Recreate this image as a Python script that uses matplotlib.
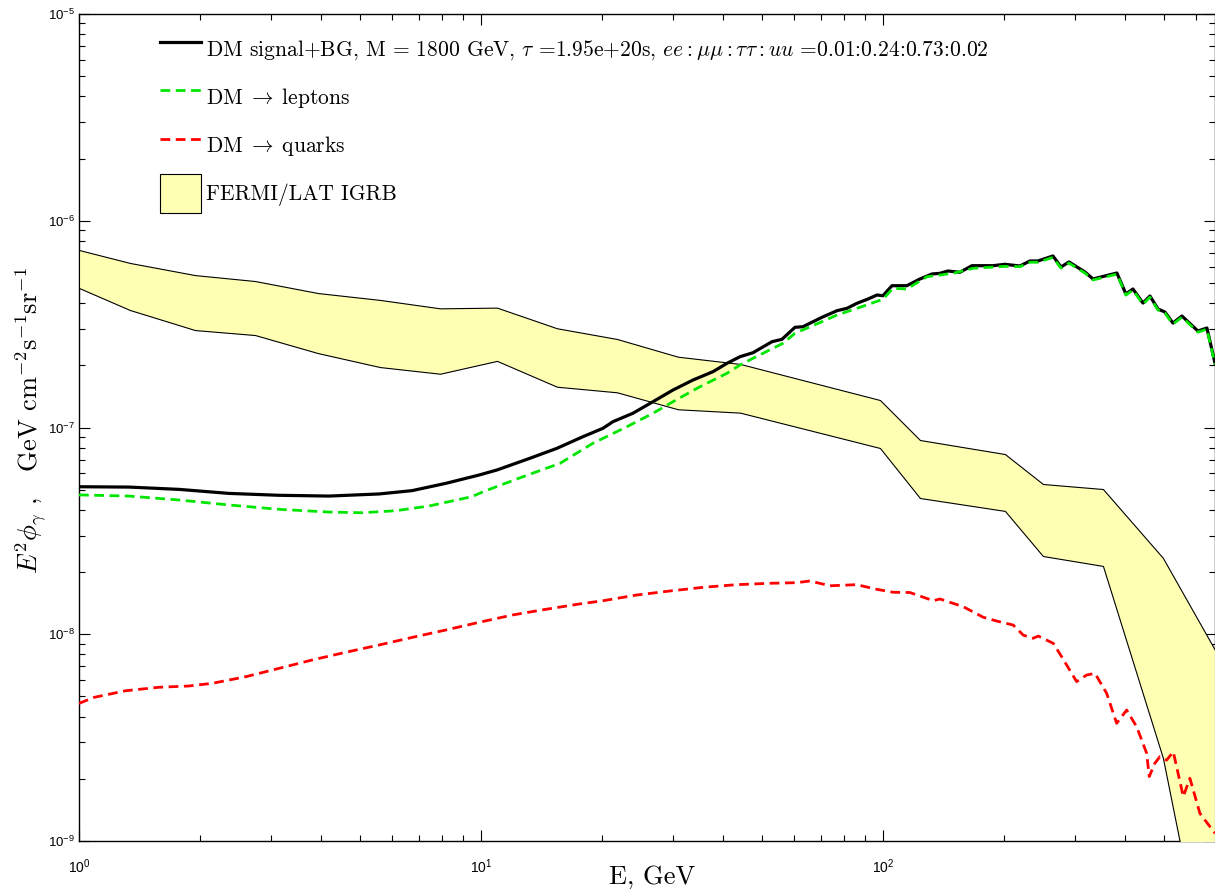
import matplotlib
matplotlib.use('Agg')
import matplotlib.pyplot as plt
from matplotlib.ticker import LogLocator, NullFormatter

# ---------------- data ----------------
E_signal = [1.0, 1.331, 1.774, 2.361, 3.145, 4.187, 5.576, 6.735, 8.18, 9.89, 10.96, 13.24, 15.45,
            17.94, 20.11, 21.30, 23.88, 26.79, 30.04, 33.69, 37.77, 40.93, 44.10, 47.50, 52.96,
            56.08, 60.41, 63.24, 70.52, 76.85, 81.37, 86.15, 91.78, 96.62, 100.0, 105.3, 114.7,
            123.6, 132.4, 138.6, 145.1, 155.4, 166.5, 187.8, 201.1, 219.2, 232.1, 243.0, 264.8,
            277.3, 290.3, 318.2, 333.1, 382.0, 402.2, 418.7, 443.5, 461.6, 483.3, 502.9, 526.5,
            554.4, 607.6, 639.7, 669.9]
signal = [5.17e-8, 5.15e-8, 5.02e-8, 4.80e-8, 4.70e-8, 4.66e-8, 4.77e-8, 4.95e-8, 5.37e-8, 5.89e-8,
          6.23e-8, 7.10e-8, 7.93e-8, 9.03e-8, 9.91e-8, 1.067e-7, 1.172e-7, 1.333e-7, 1.518e-7,
          1.697e-7, 1.862e-7, 2.044e-7, 2.200e-7, 2.300e-7, 2.600e-7, 2.670e-7, 3.052e-7, 3.073e-7,
          3.412e-7, 3.672e-7, 3.771e-7, 3.987e-7, 4.182e-7, 4.373e-7, 4.339e-7, 4.851e-7, 4.851e-7,
          5.228e-7, 5.526e-7, 5.569e-7, 5.714e-7, 5.633e-7, 6.063e-7, 6.063e-7, 6.157e-7, 6.042e-7,
          6.389e-7, 6.389e-7, 6.755e-7, 5.976e-7, 6.319e-7, 5.650e-7, 5.228e-7, 5.588e-7, 4.422e-7,
          4.676e-7, 4.000e-7, 4.325e-7, 3.743e-7, 3.620e-7, 3.201e-7, 3.461e-7, 2.928e-7, 3.028e-7,
          2.051e-7]

E_leptons = [1.0, 1.331, 1.774, 2.361, 3.145, 4.187, 5.058, 6.145, 7.42, 9.50, 10.12, 12.72, 15.73,
             18.99, 23.08, 26.79, 30.04, 35.06, 40.93, 44.10, 47.50, 56.39, 60.41, 70.52, 76.85,
             86.15, 100.0, 105.9, 114.7, 128.7, 149.3, 167.5, 201.1, 219.2, 232.1, 243.0, 264.8,
             277.3, 290.3, 318.2, 333.1, 382.0, 402.2, 418.7, 443.5, 461.6, 483.3, 502.9, 526.5,
             554.4, 607.6, 639.7, 669.9]
leptons = [4.72e-8, 4.66e-8, 4.46e-8, 4.22e-8, 4.02e-8, 3.90e-8, 3.87e-8, 3.96e-8, 4.17e-8, 4.63e-8,
           4.89e-8, 5.78e-8, 6.71e-8, 8.39e-8, 1.009e-7, 1.172e-7, 1.333e-7, 1.575e-7, 1.829e-7,
           2.006e-7, 2.161e-7, 2.554e-7, 2.855e-7, 3.249e-7, 3.499e-7, 3.771e-7, 4.169e-7, 4.713e-7,
           4.676e-7, 5.362e-7, 5.569e-7, 5.888e-7, 6.02e-7, 5.997e-7, 6.30e-7, 6.30e-7, 6.65e-7,
           5.90e-7, 6.24e-7, 5.58e-7, 5.17e-7, 5.52e-7, 4.37e-7, 4.62e-7, 3.95e-7, 4.27e-7, 3.70e-7,
           3.58e-7, 3.16e-7, 3.42e-7, 2.89e-7, 2.99e-7, 2.02e-7]

E_quarks = [1.0, 1.09, 1.306, 1.58, 1.877, 2.146, 2.598, 3.145, 3.805, 4.607, 5.576, 6.75, 8.17,
            9.89, 11.97, 14.49, 17.53, 20.15, 24.39, 29.52, 35.73, 43.25, 52.35, 61.0, 65.83,
            73.84, 86.04, 96.45, 106.1, 116.7, 133.4, 138.6, 158.4, 177.7, 191.8, 210.9, 223.4,
            236.5, 243.4, 265.3, 278.3, 303.3, 321.1, 336.9, 360.2, 381.4, 392.5, 403.9, 427.7,
            452.9, 459.7, 474.9, 488.8, 507.7, 527.6, 558.6, 580.3, 614.5, 669.9]
quarks = [4.63e-9, 4.95e-9, 5.33e-9, 5.54e-9, 5.62e-9, 5.79e-9, 6.23e-9, 6.84e-9, 7.51e-9, 8.18e-9,
          8.87e-9, 9.66e-9, 1.048e-8, 1.142e-8, 1.239e-8, 1.320e-8, 1.400e-8, 1.453e-8, 1.548e-8,
          1.619e-8, 1.687e-8, 1.737e-8, 1.764e-8, 1.776e-8, 1.810e-8, 1.716e-8, 1.737e-8, 1.650e-8,
          1.596e-8, 1.592e-8, 1.453e-8, 1.481e-8, 1.359e-8, 1.208e-8, 1.159e-8, 1.108e-8, 9.9e-9,
          9.56e-9, 9.80e-9, 9.04e-9, 7.79e-9, 5.90e-9, 6.35e-9, 6.47e-9, 5.18e-9, 3.71e-9, 3.99e-9,
          4.30e-9, 3.57e-9, 2.66e-9, 2.05e-9, 2.38e-9, 2.56e-9, 2.46e-9, 2.70e-9, 1.64e-9, 2.01e-9,
          1.36e-9, 1.09e-9]

E_band = [1.0, 1.339, 1.943, 2.741, 3.93, 5.61, 7.91, 10.96, 15.45, 21.79, 30.9, 44.1, 98.3,
          123.6, 201.1, 250.0, 352.6, 497.2, 670.0]
band_upper = [7.22e-7, 6.25e-7, 5.46e-7, 5.11e-7, 4.47e-7, 4.14e-7, 3.77e-7, 3.80e-7, 3.02e-7,
              2.68e-7, 2.20e-7, 2.03e-7, 1.358e-7, 8.70e-8, 7.44e-8, 5.33e-8, 5.04e-8, 2.34e-8,
              8.39e-9]
band_lower = [4.73e-7, 3.70e-7, 2.96e-7, 2.80e-7, 2.29e-7, 1.96e-7, 1.82e-7, 2.10e-7, 1.575e-7,
              1.48e-7, 1.225e-7, 1.18e-7, 7.96e-8, 4.56e-8, 3.95e-8, 2.39e-8, 2.14e-8, 2.52e-9,
              1.4e-10]

label_signal = (r'DM signal+BG, M = 1800 GeV, $\tau$ =1.95e+20s, '
                r'$ee:\mu\mu:\tau\tau:uu$ =0.01:0.24:0.73:0.02')
label_leptons = r'DM$\;\rightarrow\;$leptons'
label_quarks = r'DM$\;\rightarrow\;$quarks'
label_band = 'FERMI/LAT IGRB'

# ---------------- figure ----------------
plt.rcParams['mathtext.fontset'] = 'cm'
plt.rcParams['font.family'] = 'Liberation Sans'
plt.rcParams['axes.formatter.use_mathtext'] = True

W, H = 1215, 891
fig = plt.figure(figsize=(W / 100, H / 100), dpi=100)
ax = fig.add_axes([79 / W, (H - 841) / H, (1215 - 79) / W, (841 - 14) / H])

ax.set_xscale('log')
ax.set_yscale('log')

band = ax.fill_between(E_band, band_lower, band_upper, facecolor='#ffffb4',
                       edgecolor='black', linewidth=0.8, zorder=2.6, label=label_band)
l1, = ax.plot(E_signal, signal, color='black', lw=2.3, zorder=4, label=label_signal)
l2, = ax.plot(E_leptons, leptons, color='#00e600', lw=2.0, dashes=(3.5, 2.0), zorder=5,
              label=label_leptons)
l3, = ax.plot(E_quarks, quarks, color='#ff0000', lw=2.0, dashes=(3.5, 2.0), zorder=5,
              label=label_quarks)

ax.set_xlim(1, 670)
ax.set_ylim(1e-9, 1e-5)

ax.xaxis.set_major_locator(LogLocator(base=10, numticks=10))
ax.xaxis.set_minor_locator(LogLocator(base=10, subs=range(2, 10), numticks=20))
ax.yaxis.set_major_locator(LogLocator(base=10, numticks=10))
ax.yaxis.set_minor_locator(LogLocator(base=10, subs=range(2, 10), numticks=20))
ax.xaxis.set_minor_formatter(NullFormatter())
ax.yaxis.set_minor_formatter(NullFormatter())

ax.tick_params(which='both', direction='in', top=True, right=True, width=0.8)
ax.tick_params(which='major', length=8)
ax.tick_params(which='minor', length=4.3)
ax.tick_params(axis='x', which='major', labelsize=10, pad=12)
ax.tick_params(axis='y', which='major', labelsize=9.5, pad=3)
for s in ax.spines.values():
    s.set_linewidth(1.0)

fig.text(652 / W, 1 - 877 / H, 'E, GeV', ha='center', va='center',
         fontfamily='cmr10', fontsize=19)
fig.text(31 / W, 1 - 420 / H,
         r'$E^2\phi_\gamma$ ,   GeV cm$^{-2}$s$^{-1}$sr$^{-1}$',
         ha='center', va='center', rotation=90, fontfamily='cmr10', fontsize=19)

leg = ax.legend(handles=[l1, l2, l3, band], loc='upper left',
                bbox_to_anchor=(160 / W, 1 - 29 / H), bbox_transform=fig.transFigure,
                frameon=False, borderpad=0, borderaxespad=0,
                prop={'family': 'cmr10', 'size': 15.5},
                handlelength=1.9, handleheight=2.43, handletextpad=0.24,
                labelspacing=0.42)

fig.savefig('out.png', dpi=100)
